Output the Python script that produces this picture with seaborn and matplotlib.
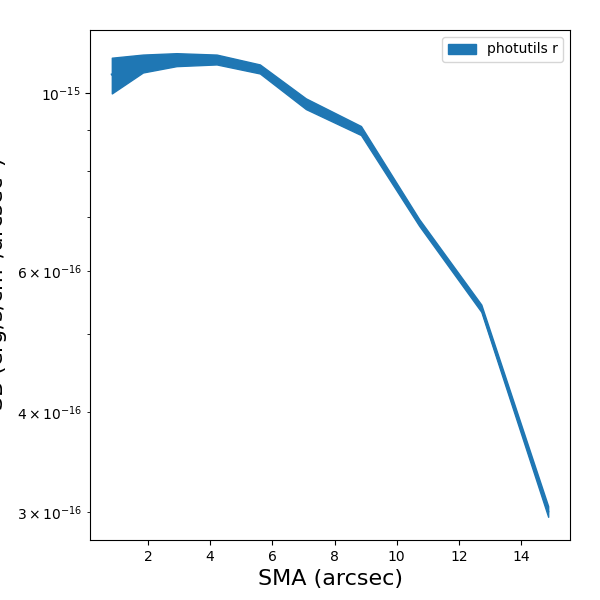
import matplotlib
matplotlib.use("Agg")
import matplotlib.pyplot as plt
import seaborn as sns
import numpy as np
import pandas as pd

sma = [0.84, 1.84, 2.92, 4.21, 5.60, 7.08, 8.85, 10.72, 12.72, 14.87]
sb_upper = [1.107e-15, 1.117e-15, 1.1215e-15, 1.117e-15, 1.0858e-15,
            0.9849e-15, 0.9097e-15, 0.6964e-15, 0.5446e-15, 0.3052e-15]
sb_lower = [0.999e-15, 1.061e-15, 1.0805e-15, 1.0858e-15, 1.058e-15,
            0.9551e-15, 0.8865e-15, 0.6831e-15, 0.5334e-15, 0.2960e-15]
sb_mid = [1.055e-15, 1.089e-15, 1.101e-15, 1.101e-15, 1.072e-15,
          0.970e-15, 0.898e-15, 0.6897e-15, 0.5390e-15, 0.3006e-15]
label = "photutils r"

sns.set_theme(style="ticks", rc={"axes.grid": False})
plt.rcParams.update(matplotlib.rcParamsDefault)
plt.rcParams["font.family"] = ["DejaVu Sans"]

fig, ax = plt.subplots(figsize=(6, 6), dpi=100)
fig.subplots_adjust(left=0.15, right=0.95, bottom=0.10, top=0.95)

df = pd.DataFrame({"sma": sma, "sb": sb_mid})
ax.fill_between(sma, sb_lower, sb_upper, color="C0", label=label)
sns.lineplot(data=df, x="sma", y="sb", ax=ax, color="C0", linewidth=1.5)
ax.set_yscale("log")
ax.set_xlabel("SMA (arcsec)", fontsize=16)
ax.set_ylabel("SB (erg/s/cm$^2$/arcsec$^2$)", fontsize=16)
ax.legend(loc="upper right")

fig.savefig("out.png", dpi=100)
